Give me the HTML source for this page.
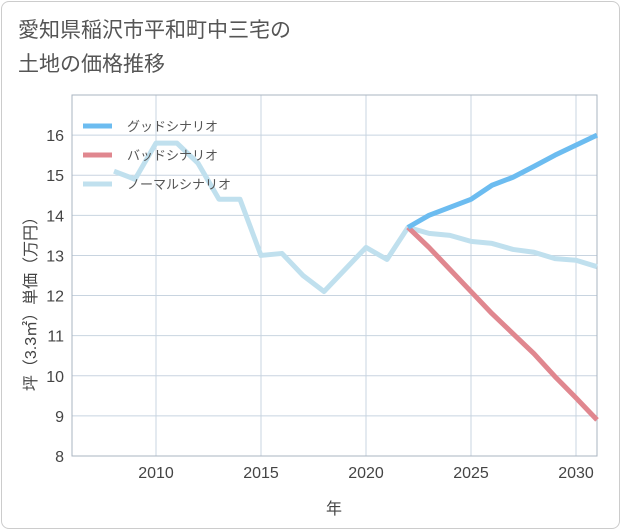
<!DOCTYPE html>
<html><head><meta charset="utf-8"><style>
body{margin:0;background:#fff;}
.card{position:absolute;left:1px;top:1px;width:617px;height:526px;border:1px solid #ccc;border-radius:8px;background:#fff;}
.title{position:absolute;left:18px;top:14px;font:21px "Liberation Sans","Noto Sans CJK JP",sans-serif;color:#555;line-height:34px;}
svg{position:absolute;left:0;top:0;}
text{font-family:"Liberation Sans","Noto Sans CJK JP",sans-serif;}
</style></head><body>
<div class="card"></div>
<div class="title">愛知県稲沢市平和町中三宅の<br>土地の価格推移</div>
<svg id="c" width="621" height="530"></svg>
<script>
const years=[2008,2009,2010,2011,2012,2013,2014,2015,2016,2017,2018,2019,2020,2021,2022,2023,2024,2025,2026,2027,2028,2029,2030,2031];
const normal=[15.1,14.9,15.8,15.8,15.3,14.4,14.4,13.0,13.05,12.5,12.1,12.65,13.2,12.9,13.7,13.55,13.5,13.35,13.3,13.15,13.08,12.92,12.88,12.72];
const goodYears=[2022,2023,2024,2025,2026,2027,2028,2029,2030,2031];
const good=[13.7,14.0,14.2,14.4,14.75,14.95,15.22,15.5,15.75,16.0];
const bad=[13.7,13.2,12.65,12.1,11.55,11.05,10.55,9.98,9.45,8.9];
const yTicks=[8,9,10,11,12,13,14,15,16];
const xTicks=[2010,2015,2020,2025,2030];
const L=72,R=597,T=95,B=456;
const x=v=>L+(v-2006)*(R-L)/25;
const y=v=>B-(v-8)*(B-T)/9;
const svg=document.getElementById('c');const NS='http://www.w3.org/2000/svg';
function mk(t,a,p){const e=document.createElementNS(NS,t);for(const k in a)e.setAttribute(k,a[k]);(p||svg).appendChild(e);return e;}
for(const v of yTicks){const g=mk('line',{x1:L,x2:R,y1:y(v),y2:y(v),stroke:'#c8d4e0','stroke-width':1});


const t=mk('text',{x:L-8,y:y(v)+6,'text-anchor':'end','font-size':16,fill:'#444'});t.textContent=v;

}
for(const v of xTicks){const g=mk('line',{x1:x(v),x2:x(v),y1:T,y2:B,stroke:'#c8d4e0','stroke-width':1});


const t=mk('text',{x:x(v),y:B+22,'text-anchor':'middle','font-size':16,fill:'#444'});t.textContent=v;

}
const fr=mk('rect',{x:L,y:T,width:R-L,height:B-T,fill:'none',stroke:'#aab4c0','stroke-width':1});


function line(xs,vs,col,name){const p=mk('polyline',{points:xs.map((v,i)=>x(v)+','+y(vs[i])).join(' '),fill:'none',stroke:col,'stroke-width':5,'stroke-linejoin':'round'});

}
line(years,normal,'#c0e0ee','normal-scenario-line');
line(goodYears,bad,'#e0878f','bad-scenario-line');
line(goodYears,good,'#6cbcf0','good-scenario-line');
const leg=[['グッドシナリオ','#6cbcf0'],['バッドシナリオ','#e0878f'],['ノーマルシナリオ','#c0e0ee']];
leg.forEach((l,i)=>{const yy=126+i*29;
const s=mk('line',{x1:83,x2:112,y1:yy,y2:yy,stroke:l[1],'stroke-width':5});


const t=mk('text',{x:127,y:yy+5,'font-size':13,fill:'#555'});t.textContent=l[0];

});
const xt=mk('text',{x:334,y:514,'text-anchor':'middle','font-size':16,fill:'#444'});xt.textContent='年';


const yt=mk('text',{x:0,y:0,'text-anchor':'middle','font-size':16,fill:'#444',transform:'translate(36,300) rotate(-90)'});yt.textContent='坪（3.3㎡）単価（万円）';


</script>
</body></html>
